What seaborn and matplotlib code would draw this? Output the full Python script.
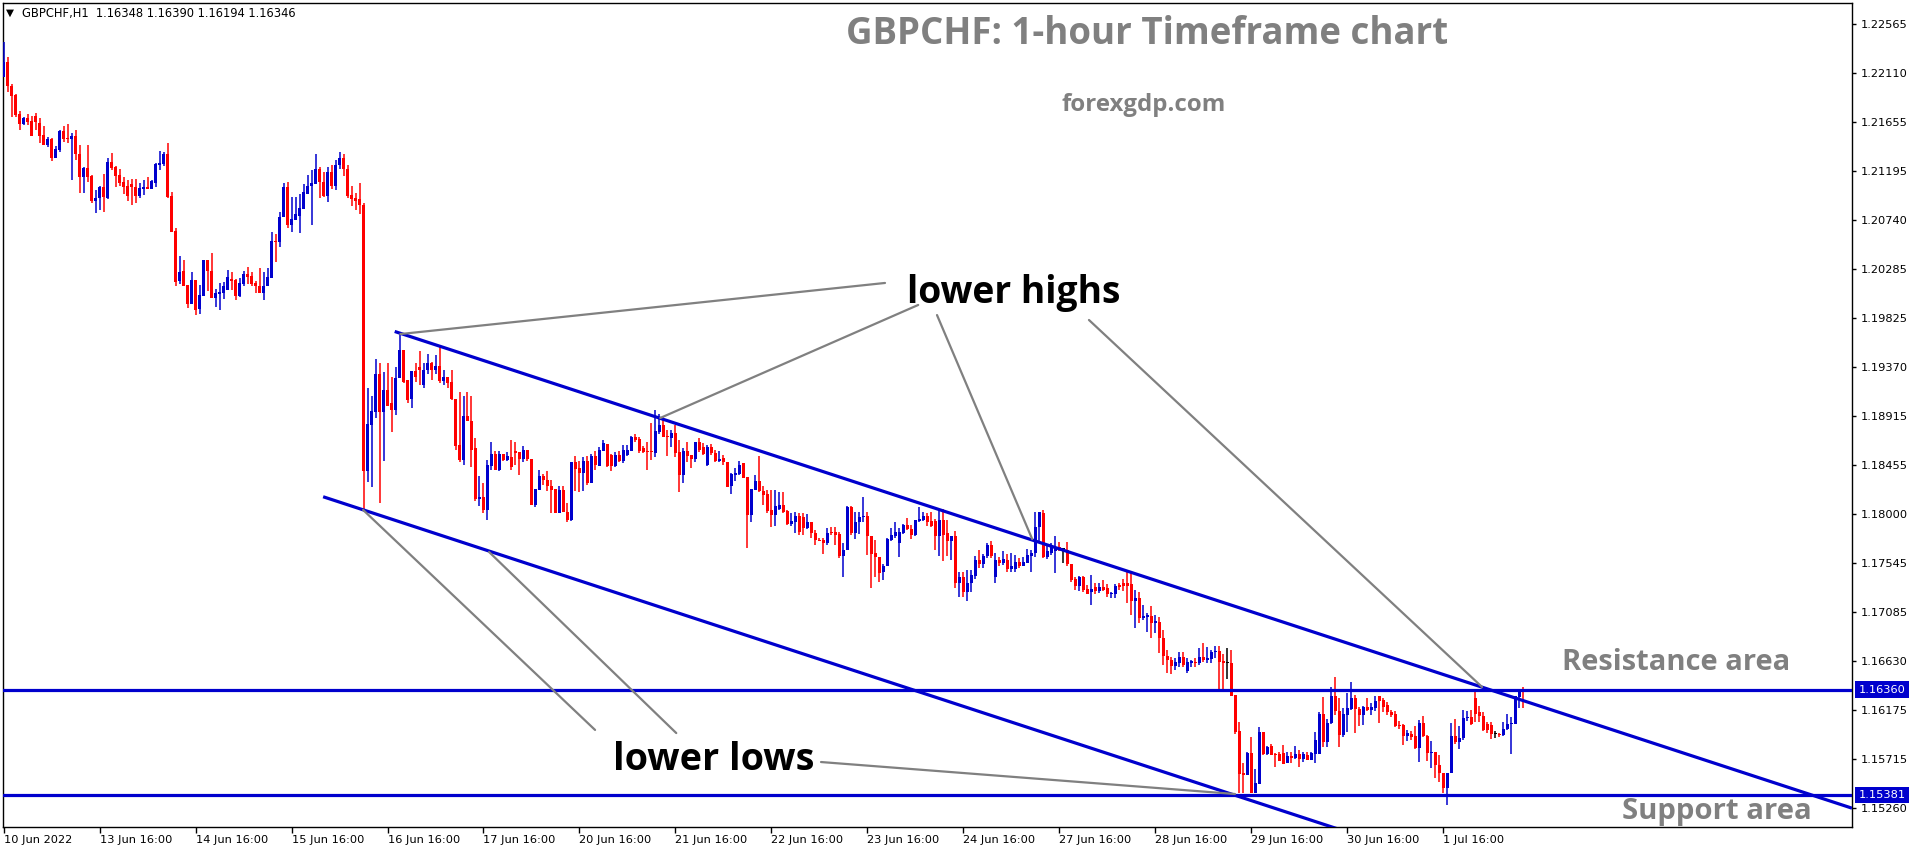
import numpy as np
import pandas as pd
import matplotlib
matplotlib.use("Agg")
import matplotlib.pyplot as plt
import seaborn as sns

# hourly candles, prices in pips (x 1e-4)
OPEN = [
    12207, 12221, 12199, 12190, 12173, 12163, 12169, 12166, 12171, 12164, 12153, 12144, 12149, 12132, 12139, 12157, 12150, 12149, 12152, 12135,
    12114, 12122, 12115, 12092, 12094, 12105, 12094, 12128, 12123, 12116, 12109, 12106, 12107, 12105, 12096, 12103, 12105, 12103, 12108, 12125,
    12126, 12135, 12096, 12064, 12017, 12026, 12013, 11996, 12018, 11991, 12003, 12037, 12026, 12001, 12005, 12006, 12009, 12019, 12018, 12003,
    12014, 12024, 12022, 12015, 12012, 12006, 12012, 12020, 12054, 12053, 12077, 12105, 12069, 12074, 12078, 12084, 12098, 12106, 12107, 12121,
    12109, 12096, 12119, 12106, 12125, 12132, 12121, 12097, 12094, 12093, 12088, 11840, 11883, 11895, 11930, 11895, 11915, 11903, 11897, 11927,
    11953, 11925, 11907, 11933, 11937, 11920, 11934, 11941, 11934, 11938, 11924, 11928, 11923, 11907, 11864, 11850, 11891, 11887, 11861, 11814,
    11816, 11804, 11845, 11856, 11841, 11856, 11850, 11853, 11859, 11858, 11851, 11860, 11851, 11808, 11822, 11835, 11832, 11826, 11823, 11801,
    11822, 11802, 11794, 11848, 11843, 11838, 11849, 11829, 11854, 11845, 11859, 11865, 11855, 11845, 11855, 11849, 11855, 11859, 11872, 11870,
    11861, 11859, 11859, 11857, 11876, 11883, 11873, 11871, 11875, 11858, 11836, 11859, 11855, 11851, 11867, 11862, 11846, 11862, 11857, 11849,
    11852, 11848, 11826, 11836, 11837, 11847, 11834, 11799, 11822, 11831, 11821, 11819, 11804, 11799, 11805, 11808, 11803, 11791, 11792, 11798,
    11797, 11787, 11792, 11782, 11776, 11776, 11773, 11783, 11783, 11781, 11761, 11766, 11806, 11782, 11792, 11797, 11798, 11779, 11764, 11760,
    11746, 11751, 11776, 11779, 11773, 11782, 11790, 11786, 11780, 11793, 11794, 11798, 11793, 11793, 11779, 11794, 11782, 11775, 11779, 11736,
    11741, 11727, 11736, 11742, 11757, 11753, 11761, 11771, 11741, 11757, 11754, 11757, 11749, 11749, 11755, 11751, 11754, 11761, 11764, 11788,
    11801, 11760, 11764, 11765, 11769, 11767, 11766, 11753, 11739, 11733, 11741, 11730, 11727, 11732, 11728, 11732, 11731, 11725, 11725, 11734,
    11736, 11736, 11735, 11719, 11722, 11703, 11704, 11705, 11698, 11699, 11684, 11668, 11664, 11658, 11661, 11667, 11654, 11661, 11662, 11661,
    11667, 11664, 11665, 11671, 11672, 11663, 11661, 11661, 11631, 11598, 11559, 11557, 11577, 11540, 11548, 11597, 11576, 11584, 11576, 11576,
    11577, 11568, 11574, 11573, 11576, 11572, 11575, 11571, 11576, 11576, 11614, 11587, 11605, 11630, 11616, 11594, 11613, 11618, 11628, 11618,
    11613, 11620, 11617, 11619, 11630, 11627, 11622, 11615, 11614, 11603, 11603, 11593, 11595, 11593, 11582, 11605, 11593, 11577, 11578, 11566,
    11559, 11545, 11559, 11593, 11587, 11591, 11610, 11611, 11628, 11615, 11612, 11604, 11603, 11595, 11595, 11594, 11600, 11604, 11604, 11629, 11634.8,
]
HIGH = [
    12240, 12226, 12201, 12191, 12175, 12170, 12173, 12171, 12174, 12169, 12161, 12151, 12150, 12143, 12158, 12161, 12163, 12155, 12158, 12144,
    12123, 12144, 12116, 12102, 12106, 12117, 12132, 12136, 12124, 12121, 12114, 12111, 12112, 12112, 12108, 12111, 12114, 12111, 12127, 12138,
    12137, 12146, 12100, 12066, 12040, 12037, 12013, 12025, 12018, 12013, 12037, 12037, 12043, 12010, 12015, 12016, 12027, 12025, 12019, 12020,
    12026, 12030, 12025, 12017, 12029, 12025, 12029, 12063, 12061, 12081, 12108, 12109, 12095, 12095, 12098, 12107, 12116, 12120, 12135, 12123,
    12119, 12123, 12125, 12130, 12137, 12135, 12125, 12106, 12099, 12108, 12090, 11917, 11910, 11944, 11941, 11932, 11941, 11928, 11937, 11969,
    11953, 11925, 11933, 11941, 11952, 11941, 11949, 11942, 11948, 11957, 11934, 11928, 11934, 11907, 11914, 11910, 11914, 11910, 11871, 11835,
    11829, 11850, 11867, 11859, 11859, 11856, 11858, 11869, 11867, 11858, 11863, 11860, 11851, 11823, 11841, 11837, 11840, 11832, 11823, 11826,
    11826, 11810, 11848, 11854, 11849, 11853, 11854, 11856, 11859, 11862, 11869, 11865, 11856, 11858, 11859, 11864, 11864, 11873, 11874, 11872,
    11863, 11867, 11885, 11897, 11893, 11891, 11878, 11878, 11883, 11869, 11861, 11867, 11855, 11867, 11871, 11866, 11864, 11865, 11860, 11859,
    11855, 11848, 11838, 11843, 11849, 11847, 11834, 11823, 11836, 11854, 11826, 11822, 11822, 11822, 11820, 11820, 11804, 11801, 11802, 11801,
    11801, 11800, 11792, 11785, 11778, 11778, 11787, 11788, 11788, 11783, 11773, 11807, 11807, 11802, 11802, 11816, 11802, 11779, 11776, 11760,
    11753, 11778, 11787, 11792, 11787, 11791, 11796, 11790, 11794, 11806, 11802, 11801, 11802, 11795, 11804, 11805, 11794, 11779, 11784, 11746,
    11746, 11748, 11748, 11761, 11766, 11763, 11773, 11775, 11764, 11760, 11765, 11763, 11764, 11762, 11759, 11760, 11767, 11766, 11802, 11802,
    11804, 11771, 11773, 11779, 11774, 11768, 11774, 11753, 11741, 11742, 11742, 11734, 11743, 11736, 11736, 11738, 11735, 11727, 11735, 11736,
    11739, 11747, 11746, 11729, 11727, 11715, 11708, 11714, 11706, 11704, 11692, 11673, 11667, 11666, 11671, 11671, 11666, 11664, 11666, 11675,
    11680, 11676, 11673, 11677, 11677, 11669, 11675, 11673, 11631, 11606, 11568, 11578, 11592, 11562, 11601, 11597, 11584, 11586, 11577, 11578,
    11585, 11578, 11578, 11584, 11580, 11578, 11578, 11578, 11597, 11615, 11629, 11609, 11639, 11648, 11628, 11619, 11633, 11643, 11631, 11620,
    11621, 11628, 11624, 11630, 11630, 11628, 11625, 11617, 11616, 11607, 11604, 11599, 11598, 11602, 11608, 11612, 11594, 11588, 11578, 11575,
    11559, 11559, 11605, 11609, 11602, 11617, 11616, 11617, 11636, 11621, 11615, 11606, 11606, 11598, 11596, 11606, 11614, 11611, 11630, 11637, 11639,
]
LOW = [
    12207, 12193, 12170, 12170, 12158, 12162, 12162, 12152, 12158, 12146, 12144, 12142, 12129, 12132, 12137, 12147, 12146, 12111, 12130, 12099,
    12099, 12109, 12090, 12080, 12083, 12081, 12093, 12120, 12105, 12106, 12098, 12092, 12088, 12090, 12094, 12097, 12103, 12103, 12105, 12120,
    12124, 12094, 12063, 12012, 12014, 12012, 11992, 11996, 11985, 11986, 12003, 12008, 12001, 11993, 11990, 12000, 12009, 12009, 11999, 12002,
    12012, 12014, 12012, 12006, 12006, 11999, 12012, 12020, 12035, 12049, 12077, 12066, 12063, 12074, 12062, 12084, 12098, 12069, 12107, 12094,
    12095, 12091, 12103, 12102, 12121, 12115, 12094, 12087, 12083, 12079, 11804, 11830, 11825, 11889, 11810, 11849, 11901, 11876, 11892, 11927,
    11922, 11903, 11899, 11923, 11920, 11917, 11930, 11925, 11930, 11922, 11920, 11917, 11906, 11860, 11848, 11846, 11887, 11844, 11812, 11807,
    11801, 11794, 11841, 11841, 11840, 11849, 11849, 11841, 11846, 11836, 11848, 11849, 11808, 11806, 11822, 11827, 11821, 11801, 11801, 11801,
    11802, 11792, 11793, 11821, 11820, 11821, 11827, 11829, 11841, 11845, 11859, 11844, 11840, 11844, 11848, 11847, 11854, 11859, 11867, 11857,
    11857, 11841, 11850, 11853, 11874, 11872, 11854, 11862, 11853, 11820, 11829, 11848, 11843, 11848, 11858, 11855, 11845, 11855, 11848, 11848,
    11846, 11825, 11819, 11831, 11836, 11833, 11768, 11792, 11822, 11820, 11808, 11801, 11788, 11789, 11804, 11801, 11790, 11789, 11782, 11780,
    11780, 11786, 11778, 11771, 11775, 11763, 11771, 11780, 11771, 11759, 11741, 11766, 11780, 11777, 11781, 11792, 11762, 11731, 11741, 11737,
    11738, 11751, 11775, 11778, 11760, 11781, 11785, 11777, 11779, 11792, 11793, 11789, 11788, 11766, 11761, 11756, 11761, 11757, 11731, 11723,
    11723, 11719, 11727, 11739, 11750, 11750, 11759, 11759, 11736, 11751, 11752, 11746, 11746, 11746, 11750, 11751, 11754, 11746, 11760, 11773,
    11759, 11758, 11762, 11745, 11765, 11754, 11751, 11737, 11729, 11728, 11727, 11725, 11715, 11725, 11726, 11728, 11723, 11722, 11722, 11729,
    11728, 11717, 11706, 11694, 11698, 11701, 11690, 11684, 11689, 11670, 11659, 11652, 11651, 11655, 11657, 11657, 11652, 11657, 11657, 11659,
    11662, 11661, 11661, 11666, 11635, 11635, 11646, 11630, 11595, 11540, 11540, 11557, 11540, 11540, 11548, 11575, 11575, 11575, 11564, 11570,
    11567, 11568, 11568, 11572, 11564, 11569, 11571, 11571, 11568, 11576, 11583, 11583, 11604, 11613, 11583, 11592, 11597, 11617, 11596, 11602,
    11603, 11616, 11613, 11616, 11605, 11615, 11613, 11611, 11601, 11600, 11585, 11588, 11589, 11581, 11569, 11592, 11570, 11563, 11554, 11550,
    11540, 11529, 11559, 11586, 11581, 11589, 11607, 11603, 11606, 11606, 11598, 11596, 11590, 11591, 11592, 11593, 11599, 11576, 11604, 11619, 11619.4,
]
CLOSE = [
    12221, 12199, 12189, 12172, 12163, 12169, 12165, 12152, 12165, 12152, 12144, 12149, 12132, 12140, 12157, 12149, 12149, 12152, 12135, 12114,
    12122, 12114, 12092, 12094, 12105, 12095, 12128, 12122, 12115, 12108, 12105, 12096, 12105, 12096, 12104, 12105, 12103, 12110, 12126, 12127,
    12135, 12095, 12063, 12016, 12025, 12012, 11996, 12018, 11990, 12004, 12037, 12026, 12001, 12006, 12007, 12012, 12021, 12017, 12003, 12015,
    12024, 12021, 12014, 12012, 12006, 12012, 12021, 12054, 12053, 12077, 12105, 12069, 12075, 12079, 12085, 12100, 12106, 12108, 12121, 12109,
    12096, 12119, 12106, 12125, 12132, 12121, 12096, 12093, 12092, 12088, 11840, 11884, 11896, 11930, 11895, 11915, 11901, 11897, 11927, 11953,
    11923, 11906, 11933, 11928, 11934, 11934, 11941, 11934, 11938, 11924, 11928, 11922, 11907, 11863, 11850, 11891, 11887, 11860, 11814, 11816,
    11804, 11846, 11856, 11841, 11856, 11850, 11854, 11844, 11857, 11851, 11860, 11851, 11808, 11823, 11835, 11832, 11826, 11822, 11801, 11822,
    11802, 11794, 11848, 11842, 11838, 11849, 11829, 11854, 11846, 11860, 11866, 11845, 11845, 11855, 11849, 11860, 11860, 11872, 11869, 11859,
    11858, 11858, 11858, 11877, 11883, 11872, 11872, 11875, 11857, 11836, 11859, 11854, 11851, 11867, 11860, 11856, 11862, 11857, 11849, 11851,
    11848, 11825, 11837, 11838, 11846, 11833, 11799, 11823, 11831, 11821, 11818, 11803, 11799, 11807, 11808, 11802, 11791, 11793, 11798, 11783,
    11787, 11792, 11782, 11776, 11775, 11773, 11782, 11782, 11780, 11761, 11766, 11806, 11782, 11792, 11797, 11798, 11779, 11763, 11760, 11745,
    11751, 11777, 11780, 11783, 11783, 11790, 11786, 11780, 11794, 11795, 11798, 11792, 11789, 11779, 11794, 11780, 11775, 11779, 11736, 11741,
    11727, 11736, 11743, 11757, 11753, 11761, 11771, 11761, 11757, 11754, 11758, 11749, 11751, 11755, 11751, 11755, 11762, 11764, 11788, 11802,
    11760, 11765, 11769, 11769, 11766, 11767, 11753, 11738, 11733, 11741, 11729, 11725, 11730, 11728, 11732, 11729, 11725, 11726, 11733, 11732,
    11733, 11733, 11719, 11722, 11703, 11705, 11706, 11698, 11700, 11684, 11668, 11664, 11658, 11662, 11667, 11659, 11662, 11663, 11661, 11667,
    11664, 11666, 11671, 11672, 11662, 11661, 11661, 11630, 11597, 11558, 11557, 11577, 11540, 11549, 11597, 11576, 11583, 11575, 11575, 11570,
    11567, 11574, 11573, 11576, 11572, 11576, 11571, 11577, 11589, 11614, 11587, 11605, 11630, 11616, 11594, 11614, 11619, 11628, 11618, 11613,
    11620, 11617, 11620, 11626, 11626, 11620, 11615, 11613, 11602, 11602, 11593, 11596, 11592, 11582, 11605, 11593, 11577, 11578, 11566, 11559,
    11545, 11559, 11593, 11587, 11591, 11610, 11611, 11604, 11614, 11612, 11599, 11599, 11595, 11595, 11594, 11600, 11604, 11605, 11630, 11636, 11634.6,
]

TICK_BARS = [0, 24, 48, 72, 96, 120, 144, 168, 192, 216, 240, 264, 288, 312, 336, 360]
TICK_LABELS = ["10 Jun 2022", "13 Jun 16:00", "14 Jun 16:00", "15 Jun 16:00", "16 Jun 16:00",
               "17 Jun 16:00", "20 Jun 16:00", "21 Jun 16:00", "22 Jun 16:00", "23 Jun 16:00",
               "24 Jun 16:00", "27 Jun 16:00", "28 Jun 16:00", "29 Jun 16:00", "30 Jun 16:00",
               "1 Jul 16:00"]
PRICE_TICKS = [1.22565, 1.22110, 1.21655, 1.21195, 1.20740, 1.20285, 1.19825, 1.19370, 1.18915,
               1.18455, 1.18000, 1.17545, 1.17085, 1.16630, 1.16175, 1.15715, 1.15260]

RESISTANCE = 1.16360
SUPPORT = 1.15381

# channel lines: (bar, price) end points
UPPER_BARS, UPPER_PRICES = [97.8, 462.2], [1.19700, 1.15258]
LOWER_BARS, LOWER_PRICES = [79.9, 345.0], [1.18160, 1.14926]

# grey pointer lines: one (bar, price) pair per end
POINTER_BARS = [[99.2, 220.4], [164.2, 228.7], [257.2, 233.4], [369.7, 271.4],
                [89.9, 147.9], [121.4, 168.2], [204.4, 307.9]]
POINTER_PRICES = [[1.19676, 1.20152], [1.18894, 1.19947], [1.17766, 1.19853], [1.16387, 1.19807],
                  [1.18037, 1.15987], [1.17645, 1.15958], [1.15688, 1.15390]]

BLUE = "#0000CD"
RED = "#FF0000"
GREY = "#808080"

W, H = 1916, 850

sns.set_theme(style="white")
plt.rcParams["font.family"] = ["DejaVu Sans"]


def px(x, y):
    return x / W, 1 - y / H


bars = pd.DataFrame({"bar": np.arange(len(OPEN)),
                     "open": np.array(OPEN) / 1e4, "high": np.array(HIGH) / 1e4,
                     "low": np.array(LOW) / 1e4, "close": np.array(CLOSE) / 1e4})
bars["kind"] = np.where(bars.close > bars.open, "up",
                        np.where(bars.close < bars.open, "down", "flat"))
colours = bars["kind"].map({"up": BLUE, "down": RED, "flat": "black"}).tolist()

fig = plt.figure(figsize=(W / 100, H / 100), dpi=100, facecolor="white")
ax = fig.add_axes([3 / W, 23 / H, 1849 / W, 824 / H])
ax.set_facecolor("white")

# candles
ax.vlines(bars.bar, bars.low, bars.high, colors=colours, linewidth=1.1, zorder=3)
body_lo = np.minimum(bars.open, bars.close)
body_h = np.maximum((bars.close - bars.open).abs(), 0.00009)
ax.bar(bars.bar, body_h, bottom=body_lo, width=0.8, color=colours, linewidth=0, zorder=3)

# support / resistance
ax.axhline(RESISTANCE, color=BLUE, lw=2.3, zorder=4)
ax.axhline(SUPPORT, color=BLUE, lw=2.3, zorder=4)

# channel
ax.plot(UPPER_BARS, UPPER_PRICES, color=BLUE, lw=2.3, zorder=4, solid_capstyle="butt")
ax.plot(LOWER_BARS, LOWER_PRICES, color=BLUE, lw=2.3, zorder=4, solid_capstyle="butt")

# grey pointers
seg = pd.DataFrame([(k, b, p) for k, (bb, pp) in enumerate(zip(POINTER_BARS, POINTER_PRICES))
                    for b, p in zip(bb, pp)], columns=["seg", "bar", "price"])
sns.lineplot(data=seg, x="bar", y="price", units="seg", estimator=None, sort=False,
             color=GREY, linewidth=1.6, ax=ax, legend=False, zorder=5)
ax.set_xlabel("")
ax.set_ylabel("")

ax.set_xlim(-0.15, 462.2)
ax.set_ylim(1.150826, 1.227607)

ax.yaxis.tick_right()
ax.set_yticks(PRICE_TICKS)
ax.set_yticklabels([f"{v:.5f}" for v in PRICE_TICKS])
ax.set_xticks(TICK_BARS)
ax.set_xticklabels(TICK_LABELS)
for lbl in ax.get_xticklabels():
    lbl.set_horizontalalignment("left")
ax.tick_params(axis="y", which="both", right=True, left=False, direction="out", length=3,
               width=1, color="black", labelsize=8.2, pad=3, labelcolor="black")
ax.tick_params(axis="x", which="both", bottom=True, direction="out", length=4,
               width=1, color="black", labelsize=8.2, pad=2, labelcolor="black")
for sp in ax.spines.values():
    sp.set_visible(True)
    sp.set_color("black")
    sp.set_linewidth(1.0)
ax.grid(False)

# highlighted price labels on the axis
for lvl in (RESISTANCE, SUPPORT):
    ax.text(1.0035, lvl, f"{lvl:.5f}", transform=ax.get_yaxis_transform(), ha="left",
            va="center", fontsize=8.2, color="white", clip_on=False, zorder=6,
            bbox=dict(boxstyle="square,pad=0.3", fc=BLUE, ec="none"))

# texts
bold = dict(family=["Open Sans", "DejaVu Sans"], fontweight="bold")
fig.text(*px(1147, 34), "GBPCHF: 1-hour Timeframe chart", ha="center", va="center",
         fontsize=26.4, color=GREY, **bold)
fig.text(*px(1144, 105), "forexgdp.com", ha="center", va="center", fontsize=17.3,
         color=GREY, **bold)
fig.text(*px(907, 293), "lower highs", ha="left", va="center", fontsize=26.8, color="black", **bold)
fig.text(*px(613, 760), "lower lows", ha="left", va="center", fontsize=27.2, color="black", **bold)
fig.text(*px(1562, 662), "Resistance area", ha="left", va="center", fontsize=21, color=GREY, **bold)
fig.text(*px(1622, 812), "Support area", ha="left", va="center", fontsize=21.2, color=GREY, **bold)

fig.text(*px(6, 13), "\u25BC", ha="left", va="center", fontsize=7.5, color="black")
fig.text(*px(22, 13), "GBPCHF,H1  1.16348 1.16390 1.16194 1.16346", ha="left", va="center",
         fontsize=8.3, color="black")

fig.savefig("out.png", dpi=100, facecolor="white")
